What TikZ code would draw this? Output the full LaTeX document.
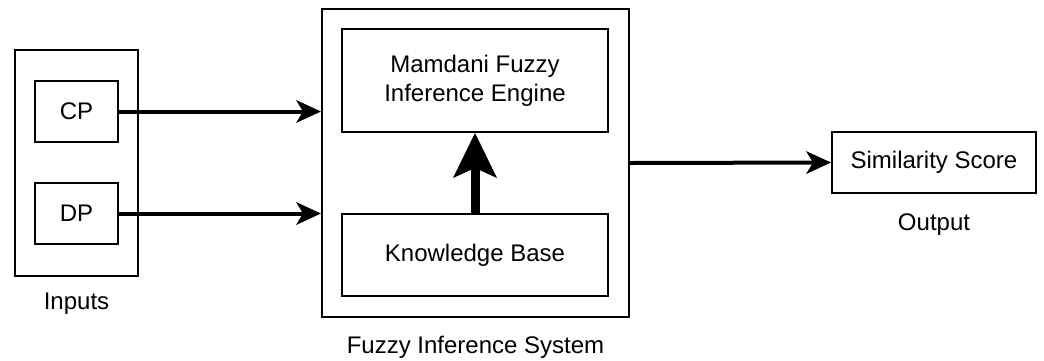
\documentclass[tikz,border=0pt]{standalone}
\usepackage{fontspec}
\setmainfont{Liberation Sans}
\usetikzlibrary{arrows.meta}
\begin{document}
\begin{tikzpicture}[x=1pt,y=-1pt,
  box/.style={draw=black,line width=2pt,inner sep=0pt,font=\fontsize{24}{29}\selectfont,align=center},
  lbl/.style={inner sep=0pt,anchor=base,font=\fontsize{24}{29}\selectfont},
  conn/.style={line width=4pt,-{Stealth[length=25pt,width=23pt,inset=7pt,line width=0pt]}},
  bigconn/.style={line width=9pt,-{Stealth[length=45pt,width=44pt,inset=10pt,line width=0pt]}}]
\useasboundingbox (0,0) rectangle (1044,360);
\node[box,minimum width=123pt,minimum height=226pt] (inputs) at (76.5,163) {};
\node[box,minimum width=83pt,minimum height=61pt] (cp) at (76.5,111.5) {CP};
\node[box,minimum width=83pt,minimum height=61pt] (dp) at (76.5,213.5) {DP};
\node[box,minimum width=307pt,minimum height=308pt] (fis) at (475.5,163) {};
\node[box,minimum width=266pt,minimum height=103pt] (mam) at (475,80.5) {Mamdani Fuzzy\\Inference Engine};
\node[box,minimum width=266pt,minimum height=82pt] (kb) at (475,255) {Knowledge Base};
\node[box,minimum width=204pt,minimum height=61pt] (sim) at (934,162.5) {Similarity Score};
\node[lbl] (inl) at (76.5,309) {Inputs};
\node[lbl] (fisl) at (475.5,353) {Fuzzy Inference System};
\node[lbl] (outl) at (934,230) {Output};
\draw[conn] (cp.east) -- (cp.east -| fis.west);
\draw[conn] (dp.east) -- (dp.east -| fis.west);
\draw[conn] (fis.east) -- (sim.west);
\draw[bigconn] (kb.north) -- (mam.south);
\end{tikzpicture}
\end{document}
